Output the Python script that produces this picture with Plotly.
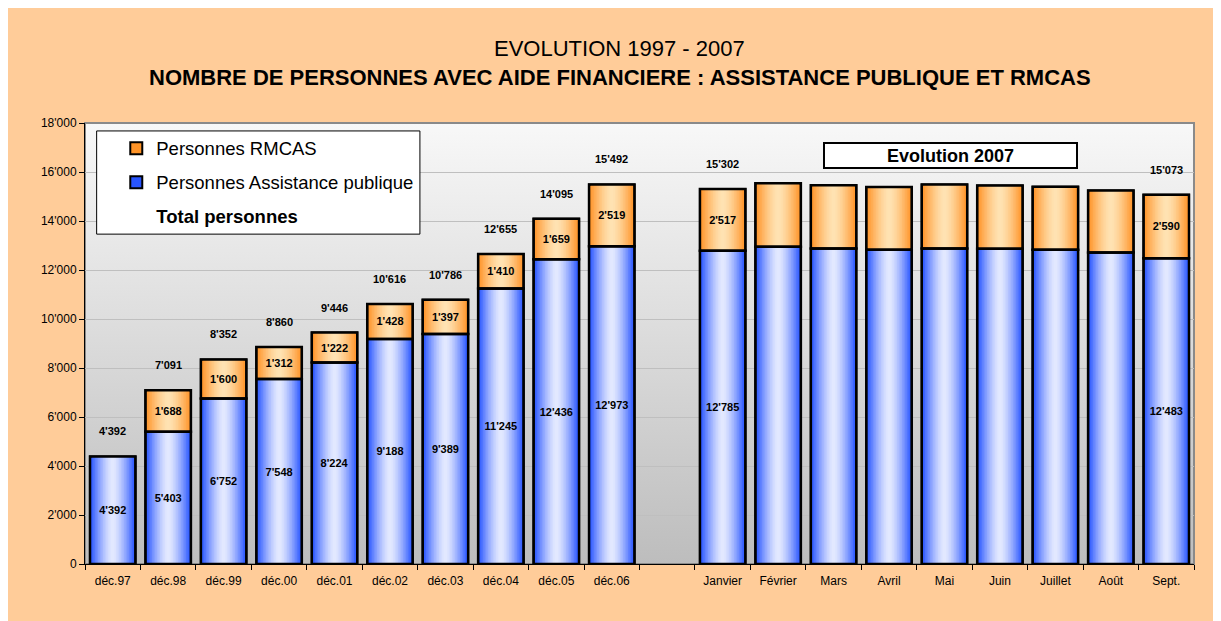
import base64
import plotly.graph_objects as go

# ---------------- data ----------------
years = ["déc.97", "déc.98", "déc.99", "déc.00", "déc.01", "déc.02",
         "déc.03", "déc.04", "déc.05", "déc.06"]
months = ["Janvier", "Février", "Mars", "Avril", "Mai", "Juin",
          "Juillet", "Août", "Sept."]
gap_label = " "

ap_years = [4392, 5403, 6752, 7548, 8224, 9188, 9389, 11245, 12436, 12973]
rmcas_years = [None, 1688, 1600, 1312, 1222, 1428, 1397, 1410, 1659, 2519]
ap_2007 = [12785, 12950, 12880, 12830, 12880, 12865, 12825, 12715, 12483]
rmcas_2007 = [2517, 2590, 2575, 2560, 2605, 2580, 2575, 2525, 2590]
labelled_months = ["Janvier", "Sept."]

# ---------------- derived ----------------
cats = years + [gap_label] + months
ap = ap_years + [None] + ap_2007
rmcas = rmcas_years + [None] + rmcas_2007
total = [None if a is None else a + (r or 0) for a, r in zip(ap, rmcas)]
show = [c in years or c in labelled_months for c in cats]


def fmt(v):
    return f"{v:,}".replace(",", "'")


ap_text = [fmt(v) if (s and v is not None) else "" for v, s in zip(ap, show)]
rm_text = [fmt(v) if (s and v is not None) else "" for v, s in zip(rmcas, show)]

FONT = "Liberation Sans, Arial, sans-serif"
BAR_W = 0.82
N_LAYERS = 14


def mix(c1, c2, f):
    return "rgb(%d,%d,%d)" % tuple(round(a + (b - a) * f) for a, b in zip(c1, c2))


fig = go.Figure()


def gradient_bars(y, base, edge, center, name, rank):
    for k in range(N_LAYERS):
        t = k / (N_LAYERS - 1)
        f = 1 - (1 - t) ** 1.4
        w = BAR_W * (1 - k / N_LAYERS)
        first = k == 0
        fig.add_trace(go.Bar(
            x=cats, y=y, base=base, width=w,
            marker=dict(color=mix(edge, center, f),
                        line=dict(color="black", width=2 if first else 0)),
            name=name, showlegend=first, legendgroup=name, legendrank=rank,
            hoverinfo="skip",
        ))


base_rm = [a if r is not None else None for a, r in zip(ap, rmcas)]
gradient_bars(ap, [0] * len(cats), (40, 85, 255), (226, 232, 255),
              "Personnes Assistance publique", 2)
gradient_bars(rmcas, base_rm, (255, 148, 40), (255, 226, 178),
              "Personnes RMCAS", 1)

# outline + labels
for y, base, txt in [(ap, [0] * len(cats), ap_text), (rmcas, base_rm, rm_text)]:
    fig.add_trace(go.Bar(
        x=cats, y=y, base=base, width=BAR_W,
        marker=dict(color="rgba(0,0,0,0)", line=dict(color="black", width=2.5)),
        text=txt, textposition="inside", insidetextanchor="middle", textangle=0,
        textfont=dict(family=FONT, size=11, color="black", weight="bold"),
        showlegend=False, hoverinfo="skip", cliponaxis=False,
    ))

# legend entry for totals
fig.add_trace(go.Scatter(
    x=cats, y=total, mode="markers",
    marker=dict(color="rgba(0,0,0,0)", size=1, line=dict(width=0)),
    name="<b>Total personnes</b>", legendgroup="tot", legendrank=3,
    hoverinfo="skip",
))

# total labels above the bars
annotations = []
for c, t, s in zip(cats, total, show):
    if s and t is not None:
        annotations.append(dict(x=c, y=t, xref="x", yref="y", text="<b>" + fmt(t) + "</b>",
                                showarrow=False, yshift=25,
                                font=dict(family=FONT, size=11, color="black")))

annotations += [
    dict(text="EVOLUTION 1997 - 2007", xref="paper", yref="paper", x=0.4824, y=1.170,
         xanchor="center", yanchor="middle", showarrow=False,
         font=dict(family=FONT, size=22, color="black")),
    dict(text="<b>NOMBRE DE PERSONNES AVEC AIDE FINANCIERE : ASSISTANCE PUBLIQUE ET RMCAS</b>",
         xref="paper", yref="paper", x=0.4824, y=1.104, xanchor="center", yanchor="middle",
         showarrow=False, font=dict(family=FONT, size=22, color="black")),
    dict(text="<b>Evolution 2007</b>", xref="paper", yref="paper", x=0.7804, y=0.926,
         xanchor="center", yanchor="middle",
         showarrow=False, width=249, height=21, bgcolor="white", bordercolor="black",
         borderwidth=2, borderpad=1, font=dict(family=FONT, size=18, color="black")),
]

svg = ("<svg xmlns='http://www.w3.org/2000/svg' width='100' height='100' "
       "preserveAspectRatio='none'><defs><linearGradient id='g' x1='0' y1='0' x2='0' y2='1'>"
       "<stop offset='0' stop-color='#F8F8F8'/><stop offset='1' stop-color='#BDBDBD'/>"
       "</linearGradient></defs><rect width='100' height='100' fill='url(#g)'/></svg>")
bg_src = "data:image/svg+xml;base64," + base64.b64encode(svg.encode()).decode()

fig.update_layout(
    width=1221, height=621,
    margin=dict(l=77, r=35, t=115, b=65),
    paper_bgcolor="#FFCC99",
    plot_bgcolor="rgba(0,0,0,0)",
    barmode="overlay",
    separators=".'",
    font=dict(family=FONT, size=12, color="black"),
    images=[dict(source=bg_src, xref="paper", yref="paper", x=0, y=1, sizex=1, sizey=1,
                 sizing="stretch", layer="below", xanchor="left", yanchor="top")],
    shapes=[
        dict(type="rect", xref="paper", yref="paper", x0=0, x1=1, y0=0, y1=1,
             fillcolor="rgba(0,0,0,0)", line=dict(color="#8A8A8A", width=2), layer="below"),
        dict(type="rect", xref="paper", yref="paper", x0=0.0105, x1=0.302, y0=0.748, y1=0.982,
             fillcolor="white", line=dict(color="black", width=1), layer="above"),
    ],
    legend=dict(x=0.0282, y=0.985, xanchor="left", yanchor="top",
                bgcolor="rgba(0,0,0,0)", borderwidth=0, tracegroupgap=7,
                font=dict(family=FONT, size=18.5, color="black"), itemwidth=30),
    annotations=annotations,
    xaxis=dict(type="category", categoryorder="array", categoryarray=cats,
               range=[-0.5, len(cats) - 0.5], autorange=False,
               showline=True, linecolor="black", linewidth=1,
               ticks="outside", tickson="boundaries", ticklen=5, tickcolor="black",
               ticklabelstandoff=6,
               tickfont=dict(family=FONT, size=12, color="black"), showgrid=False),
    yaxis=dict(range=[0, 18000], dtick=2000, tickformat=",d",
               showline=True, linecolor="black", linewidth=1,
               ticks="outside", ticklen=5, tickcolor="black",
               gridcolor="#BFBFBF", gridwidth=1, zeroline=False,
               tickfont=dict(family=FONT, size=12, color="black")),
)

fig.write_html("out.html")
